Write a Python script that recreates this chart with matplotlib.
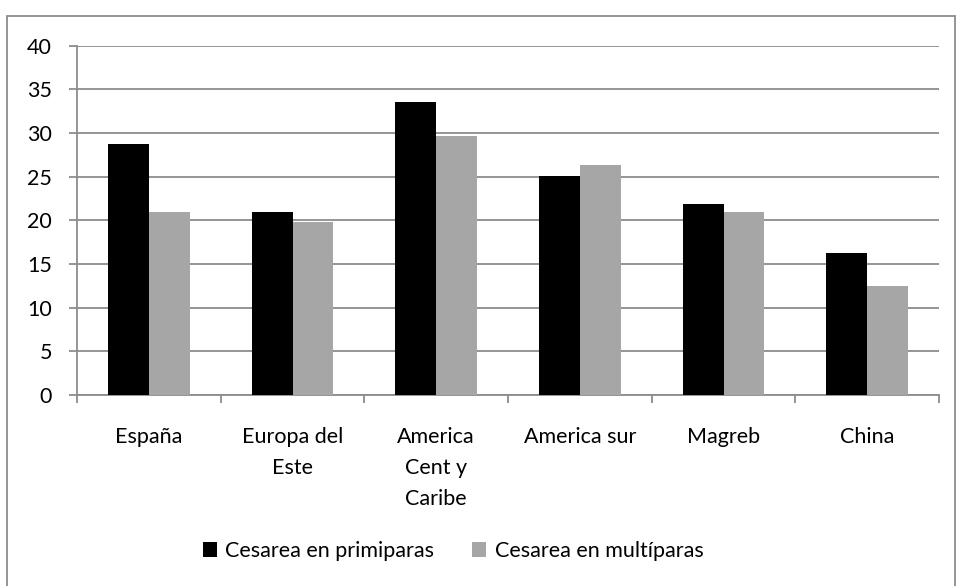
import matplotlib.pyplot as plt
import numpy as np
from matplotlib.patches import Rectangle

categorias = ["España", "Europa del\nEste", "America\nCent y\nCaribe", "America sur", "Magreb", "China"]
primiparas = [28.8, 20.9, 33.6, 25.1, 21.9, 16.3]
multiparas = [20.9, 19.8, 29.7, 26.3, 20.9, 12.5]
series = ["Cesarea en primiparas", "Cesarea en multíparas"]

plt.rcParams['font.family'] = ['Lato', 'DejaVu Sans']
fs = 15.5

fig = plt.figure(figsize=(9.56, 5.86), dpi=100)
ax = fig.add_axes([77 / 956, 1 - 395 / 586, 862 / 956, 349.3 / 586])

x = np.arange(len(categorias))
w = 0.285
ax.bar(x - w / 2, primiparas, w, color="black", label=series[0], zorder=3)
ax.bar(x + w / 2, multiparas, w, color="#a6a6a6", label=series[1], zorder=3)

ax.set_xlim(-0.5, len(categorias) - 0.5)
ax.set_ylim(0, 40)
ax.set_yticks(range(0, 41, 5))
ax.yaxis.grid(True, color="#8c8c8c", linewidth=1.3, zorder=0)
ax.set_xticks(np.arange(-0.5, len(categorias), 1))
ax.set_xticklabels([])
ax.set_xticks(x, minor=True)
ax.set_xticklabels(categorias, minor=True, fontsize=fs, linespacing=1.7, va="top")
ax.tick_params(axis="x", which="minor", length=0, pad=23)
ax.tick_params(axis="x", which="major", length=6, color="#8c8c8c", width=1.3)
ax.tick_params(axis="y", length=6, color="#8c8c8c", width=1.3, labelsize=fs, pad=12)

for side in ["top", "right"]:
    ax.spines[side].set_visible(False)
for side in ["left", "bottom"]:
    ax.spines[side].set_color("#8c8c8c")
    ax.spines[side].set_linewidth(1.3)

fig.legend(loc="center", bbox_to_anchor=(0.474, 1 - 551 / 586), ncol=2, frameon=False,
           fontsize=fs, handlelength=0.65, handleheight=0.65, handletextpad=0.4,
           columnspacing=1.75)

# marco exterior del grafico
fig.patches.append(Rectangle((7 / 956, -0.01), 947.5 / 956, 1 - 16 / 586 + 0.01,
                             transform=fig.transFigure, fill=False,
                             edgecolor="#8c8c8c", linewidth=1.3))

fig.savefig("out.png", dpi=100)
